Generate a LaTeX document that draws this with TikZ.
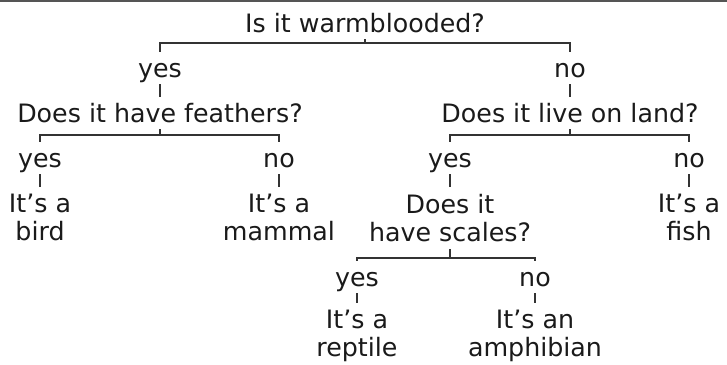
\documentclass[tikz,border=0pt]{standalone}
\usepackage{fontspec}
\setmainfont{DejaVu Sans}
\usepackage{tikz}
\usetikzlibrary{positioning, calc}
\usepackage{xcolor}
\definecolor{keyInk}  {HTML}{1A1A1A}
\definecolor{keyLine} {HTML}{333333}
\definecolor{keyRule} {HTML}{555555}
\tikzset{
  query/.style = {font=\fontsize{18}{19.8}\selectfont, text=keyInk,
                  inner xsep=0pt, inner ysep=5pt, text height=12.8pt,
                  text depth=0pt, anchor=base},
  tall/.style  = {font=\fontsize{18}{19.8}\selectfont, text=keyInk,
                  inner xsep=0pt, inner ysep=5pt, align=center, anchor=north},
  link/.style  = {draw=keyLine, line width=1.6pt},
}

\begin{document}
\begin{tikzpicture}[
  x=0.025cm, y=-0.025cm,
  choice/.style={query},
]
\useasboundingbox (0,0) rectangle (727,364);

% Top rule
\draw[keyRule, line width=1.5pt] (0,1) -- (727,1);

% Questions
\node[query] (warm)   at (365,32)  {Is it warmblooded?};
\node[query] (feath)  at (160,122) {Does it have feathers?};
\node[query] (land)   at (570,122) {Does it live on land?};
\node[tall]  (scales) at (450,187) {Does it\\have scales?};

% Answers
\node[choice] (y1) at (160,77)  {yes};
\node[choice] (n1) at (570,77)  {no};
\node[choice] (y2) at (40,167)  {yes};
\node[choice] (n2) at (279,167) {no};
\node[choice] (y3) at (450,167) {yes};
\node[choice] (n3) at (689,167) {no};
\node[choice] (y4) at (357,286) {yes};
\node[choice] (n4) at (535,286) {no};

% Results
\node[tall] (bird)   at (40,187)  {It’s a\\bird};
\node[tall] (mammal) at (279,187) {It’s a\\mammal};
\node[tall] (fish)   at (689,187) {It’s a\\fish};
\node[tall] (rept)   at (357,303) {It’s a\\reptile};
\node[tall] (amph)   at (535,303) {It’s an\\amphibian};

% Brackets
\coordinate (b1) at (365,43);
\coordinate (b2) at (160,135);
\coordinate (b3) at (570,135);
\coordinate (b4) at (450,258);
\draw[link] (warm.south)   -- (b1);
\draw[link] (feath.south)  -- (b2);
\draw[link] (land.south)   -- (b3);
\draw[link] (scales.south) -- (b4);
\draw[link] (y1.north) |- (b1) -| (n1.north);
\draw[link] (y2.north) |- (b2) -| (n2.north);
\draw[link] (y3.north) |- (b3) -| (n3.north);
\draw[link] (y4.north) |- (b4) -| (n4.north);

% Ticks
\foreach \a/\b in {y1/feath, n1/land, y2/bird, n2/mammal,
                   y3/scales, n3/fish, y4/rept, n4/amph}
  \draw[link] (\a.south) -- (\b.north);

\end{tikzpicture}
\end{document}
